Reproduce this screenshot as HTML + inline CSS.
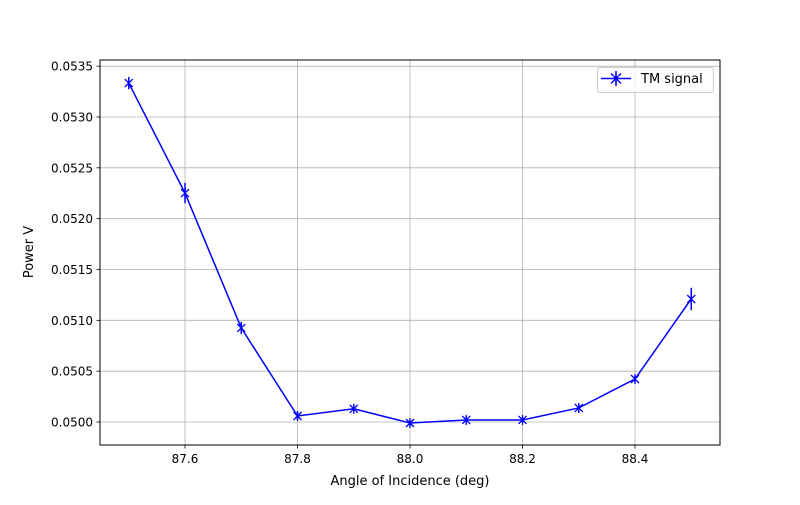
<!DOCTYPE html>
<html><head><meta charset="utf-8"><style>
body{margin:0;background:#fff;}
svg text{font-family:"DejaVu Sans","Liberation Sans",sans-serif;fill:#000;}
</style></head><body>
<svg id="chart" width="800" height="500" xmlns="http://www.w3.org/2000/svg">
<rect width="800" height="500" fill="#fff"/>
<g id="grid"></g><g id="ticks"></g><g id="series"></g>
<rect x="100" y="60" width="620" height="385" fill="none" stroke="#000" stroke-width="1"/>
<text x="410" y="485" font-size="13" text-anchor="middle">Angle of Incidence (deg)</text>
<text transform="translate(33,252) rotate(-90)" font-size="13" text-anchor="middle">Power V</text>
<g>
<rect x="597.5" y="67.5" width="116" height="25" rx="2" fill="#fff" fill-opacity="0.8" stroke="#ccc"/>
<line x1="601" y1="78.5" x2="631" y2="78.5" stroke="#00f" stroke-width="1.5"/>
<line x1="616" y1="71" x2="616" y2="86" stroke="#00f" stroke-width="1.5"/>
<path d="M611,73.5L621,83.5M621,73.5L611,83.5M616,72.5L616,84.5" stroke="#00f" stroke-width="1.3"/>
<text x="641" y="83" font-size="13">TM signal</text>
</g>
</svg>
<script>
const angles=[87.5,87.6,87.7,87.8,87.9,88.0,88.1,88.2,88.3,88.4,88.5];
const power=[0.053334,0.052252,0.050925,0.050059,0.050130,0.049990,0.050020,0.050020,0.050138,0.050423,0.051210];
const errs=[0.00006,0.00010,0.00006,0.00004,0.00003,0.00003,0.00004,0.00003,0.00004,0.00003,0.00011];
const xTicks=[87.6,87.8,88.0,88.2,88.4];
const xTickLabels=["87.6","87.8","88.0","88.2","88.4"];
const yTicks=[0.0500,0.0505,0.0510,0.0515,0.0520,0.0525,0.0530,0.0535];
const yTickLabels=["0.0500","0.0505","0.0510","0.0515","0.0520","0.0525","0.0530","0.0535"];
const NS="http://www.w3.org/2000/svg";
function X(v){return 185+(v-87.6)*562.5;}
function Y(v){return 422-(v-0.05)*101667;}
function mk(t,a,p){const e=document.createElementNS(NS,t);for(const k in a)e.setAttribute(k,a[k]);p.appendChild(e);return e;}
const grid=document.getElementById('grid'),ticks=document.getElementById('ticks'),ser=document.getElementById('series');
xTicks.forEach((v,i)=>{const x=X(v);
const g=mk('line',{x1:x,x2:x,y1:60,y2:445,stroke:'#b0b0b0','stroke-width':0.8},grid);


mk('line',{x1:x,x2:x,y1:445,y2:448.5,stroke:'#000','stroke-width':0.8},ticks);
const t=mk('text',{x:x,y:463,'font-size':12,'text-anchor':'middle'},ticks);t.textContent=xTickLabels[i];

});
yTicks.forEach((v,i)=>{const y=Y(v);
const g=mk('line',{x1:100,x2:720,y1:y,y2:y,stroke:'#b0b0b0','stroke-width':0.8},grid);


mk('line',{x1:96.5,x2:100,y1:y,y2:y,stroke:'#000','stroke-width':0.8},ticks);
const t=mk('text',{x:93,y:y+4.5,'font-size':12,'text-anchor':'end'},ticks);t.textContent=yTickLabels[i];

});
const pl=mk('polyline',{points:angles.map((a,i)=>X(a)+','+Y(power[i])).join(' '),fill:'none',stroke:'#00f','stroke-width':1.5},ser);


angles.forEach((a,i)=>{const x=X(a),y=Y(power[i]);
const eb=mk('line',{x1:x,x2:x,y1:Y(power[i]+errs[i]),y2:Y(power[i]-errs[i]),stroke:'#00f','stroke-width':1.5},ser);


const m=mk('path',{d:`M${x-4},${y-4}L${x+4},${y+4}M${x+4},${y-4}L${x-4},${y+4}M${x},${y-5}L${x},${y+5}`,stroke:'#00f','stroke-width':1.3},ser);

});
</script>
</body></html>
